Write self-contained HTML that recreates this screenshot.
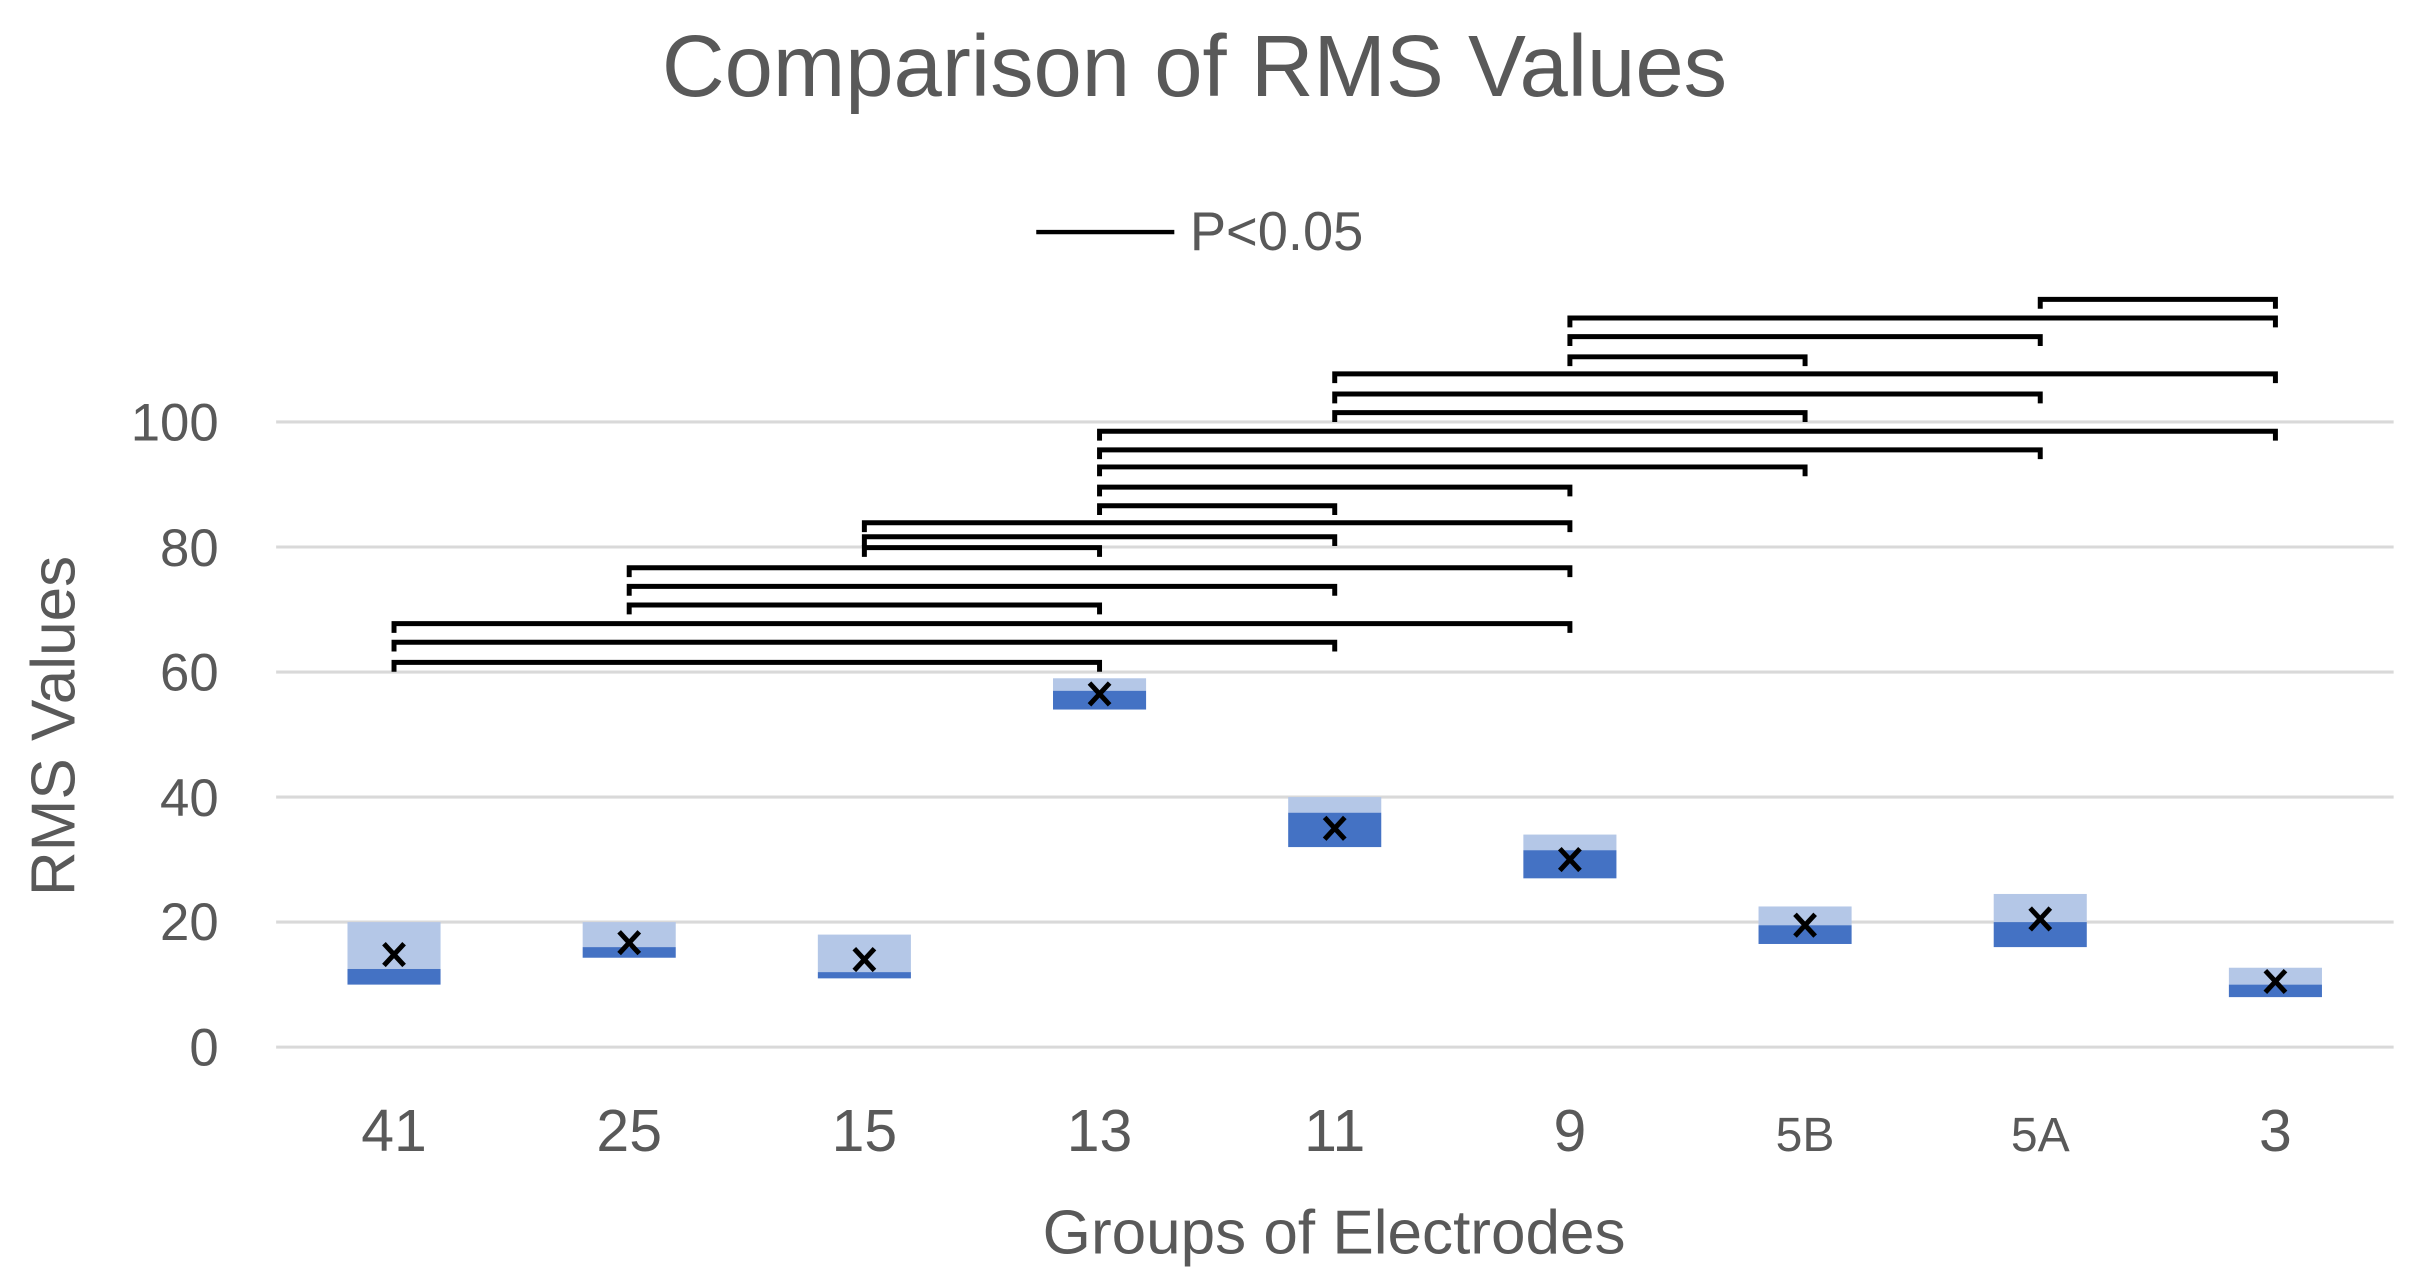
<!DOCTYPE html>
<html><head><meta charset="utf-8"><style>html,body{margin:0;padding:0;background:#fff;}svg{display:block}</style></head>
<body>
<svg width="2420" height="1282" viewBox="0 0 1560 826.4" preserveAspectRatio="none" xmlns="http://www.w3.org/2000/svg" font-family="'Liberation Sans', sans-serif">
<rect width="1560" height="826.4" fill="#fff"/>
<text x="770" y="62" font-size="56" fill="#595959" text-anchor="middle">Comparison of RMS Values</text>
<line x1="668" y1="149.6" x2="757" y2="149.6" stroke="#000" stroke-width="2.8"/>
<text x="767" y="161" font-size="35" fill="#595959">P&lt;0.05</text>
<g stroke="#d9d9d9" stroke-width="2">
<line x1="178" x2="1543" y1="675" y2="675"/><line x1="178" x2="1543" y1="594.4" y2="594.4"/>
<line x1="178" x2="1543" y1="513.8" y2="513.8"/><line x1="178" x2="1543" y1="433.2" y2="433.2"/>
<line x1="178" x2="1543" y1="352.6" y2="352.6"/><line x1="178" x2="1543" y1="272" y2="272"/>
</g>
<g font-size="34" fill="#595959" text-anchor="end">
<text x="141" y="687">0</text><text x="141" y="606">20</text><text x="141" y="526">40</text>
<text x="141" y="445">60</text><text x="141" y="365">80</text><text x="141" y="284">100</text>
</g>
<g font-size="38" fill="#595959" text-anchor="middle">
<text x="254" y="742">41</text><text x="405.6" y="742">25</text><text x="557.2" y="742">15</text>
<text x="708.8" y="742">13</text><text x="860.4" y="742">11</text><text x="1012" y="742">9</text>
<text x="1163.6" y="742" font-size="31">5B</text><text x="1315.2" y="742" font-size="31">5A</text><text x="1466.8" y="742">3</text>
</g>
<text x="860" y="808" font-size="40" fill="#595959" text-anchor="middle">Groups of Electrodes</text>
<text transform="translate(48,468) rotate(-90)" font-size="40" fill="#595959" text-anchor="middle">RMS Values</text>
<g id="boxes"></g>
<g id="br" stroke="#000" stroke-width="3.2" fill="none"></g>
</svg>
<script>
(function(){
var ns="http://www.w3.org/2000/svg";
function y(v){return 675-4.03*v;}
function cx(i){return 254+151.6*i;}
var data=[[20,12.5,10,14.8],[20,16,14.3,16.7],[18,12,11,14],[59,57,54,56.5],[40,37.5,32,35],[34,31.5,27,30],[22.5,19.5,16.5,19.5],[24.5,20,16,20.5],[12.7,10,8,10.5]];
var g=document.getElementById('boxes');
function el(t,a,p){var e=document.createElementNS(ns,t);for(var k in a)e.setAttribute(k,a[k]);p.appendChild(e);return e;}
data.forEach(function(d,i){
 var x=cx(i)-30;
 el('rect',{x:x,y:y(d[0]),width:60,height:y(d[1])-y(d[0]),fill:'#b4c7e7'},g);
 el('rect',{x:x,y:y(d[1]),width:60,height:y(d[2])-y(d[1]),fill:'#4472c4'},g);
 var mx=cx(i),my=y(d[3]);
 el('path',{d:'M'+(mx-6.5)+' '+(my-7)+'L'+(mx+6.5)+' '+(my+7)+'M'+(mx+6.5)+' '+(my-7)+'L'+(mx-6.5)+' '+(my+7),stroke:'#000','stroke-width':3.2,fill:'none'},g);
});
var b=[[0,3,427],[0,4,414],[0,5,402],[1,3,390],[1,4,378],[1,5,366],[2,3,353],[2,4,346],[2,5,337],[3,4,326],[3,5,314],[3,6,301],[3,7,290],[3,8,278],[4,6,266],[4,7,254],[4,8,241],[5,6,230],[5,7,217],[5,8,205],[7,8,193]];
var gb=document.getElementById('br');
b.forEach(function(r){
 var x1=cx(r[0]),x2=cx(r[1]),yy=r[2];
 el('path',{d:'M'+x1+' '+(yy+6)+'V'+yy+'H'+x2+'V'+(yy+6)},gb);
});
})();
</script>
</body></html>
